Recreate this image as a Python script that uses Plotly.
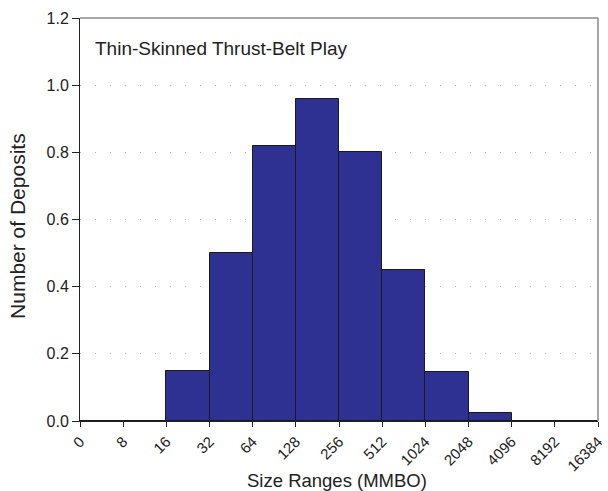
import plotly.graph_objects as go

# Size classes (MMBO) as bin edges, and deposit counts per bin
bin_edges = ["0", "8", "16", "32", "64", "128", "256", "512", "1024", "2048", "4096", "8192", "16384"]
bin_counts = [0, 0, 0.15, 0.50, 0.82, 0.96, 0.80, 0.45, 0.147, 0.025, 0, 0]

y_ticks = [0.0, 0.2, 0.4, 0.6, 0.8, 1.0, 1.2]

# bars sit between consecutive edge positions
centers = [i + 0.5 for i in range(len(bin_counts))]

fig = go.Figure()
fig.add_trace(go.Bar(
    x=centers,
    y=bin_counts,
    width=[1.0] * len(bin_counts),
    marker=dict(color="#2E3192", line=dict(color="#1a1a1a", width=1)),
    hoverinfo="skip",
))

font_family = "Liberation Sans, Arial, sans-serif"

fig.update_layout(
    width=608, height=491,
    margin=dict(l=80, r=10, t=18, b=70),
    paper_bgcolor="white",
    plot_bgcolor="white",
    showlegend=False,
    bargap=0,
    font=dict(family=font_family, color="#222"),
    xaxis=dict(
        range=[0, len(bin_edges) - 1],
        tickmode="array",
        tickvals=list(range(len(bin_edges))),
        ticktext=bin_edges,
        tickangle=-45,
        tickfont=dict(family=font_family, size=15, color="#222"),
        ticks="outside", ticklen=5, tickcolor="#222",
        showline=True, linecolor="#222", linewidth=1,
        showgrid=False, zeroline=False,
        automargin=False,
    ),
    yaxis=dict(
        range=[0, 1.2],
        tickmode="array",
        tickvals=y_ticks,
        ticktext=[f"{v:.1f}" for v in y_ticks],
        tickfont=dict(family=font_family, size=16, color="#222"),
        ticks="outside", ticklen=7, tickcolor="#222",
        showline=True, linecolor="#222", linewidth=1,
        showgrid=True, gridcolor="#b4b4b4", griddash="1px,14px", gridwidth=1,
        zeroline=False,
        automargin=False,
    ),
    shapes=[
        dict(type="line", xref="paper", yref="paper", x0=0, x1=1, y0=1, y1=1,
             line=dict(color="#888", width=1.5)),
        dict(type="line", xref="paper", yref="paper", x0=1, x1=1, y0=0, y1=1,
             line=dict(color="#888", width=1.5)),
    ],
    annotations=[
        dict(text="Thin-Skinned Thrust-Belt Play", xref="paper", yref="paper",
             x=0.026, y=0.925, xanchor="left", yanchor="middle", showarrow=False,
             font=dict(size=19, color="#222")),
        # axis titles
        dict(text="Size Ranges (MMBO)", xref="paper", yref="paper",
             x=0.497, y=0, yshift=-59, xanchor="center", yanchor="middle",
             showarrow=False, font=dict(size=18.5, color="#222")),
        dict(text="Number of Deposits", xref="paper", yref="paper",
             x=0, xshift=-62, y=0.484, xanchor="center", yanchor="middle",
             textangle=-90, showarrow=False, font=dict(size=21, color="#222")),
    ],
)

fig.write_html("out.html")
